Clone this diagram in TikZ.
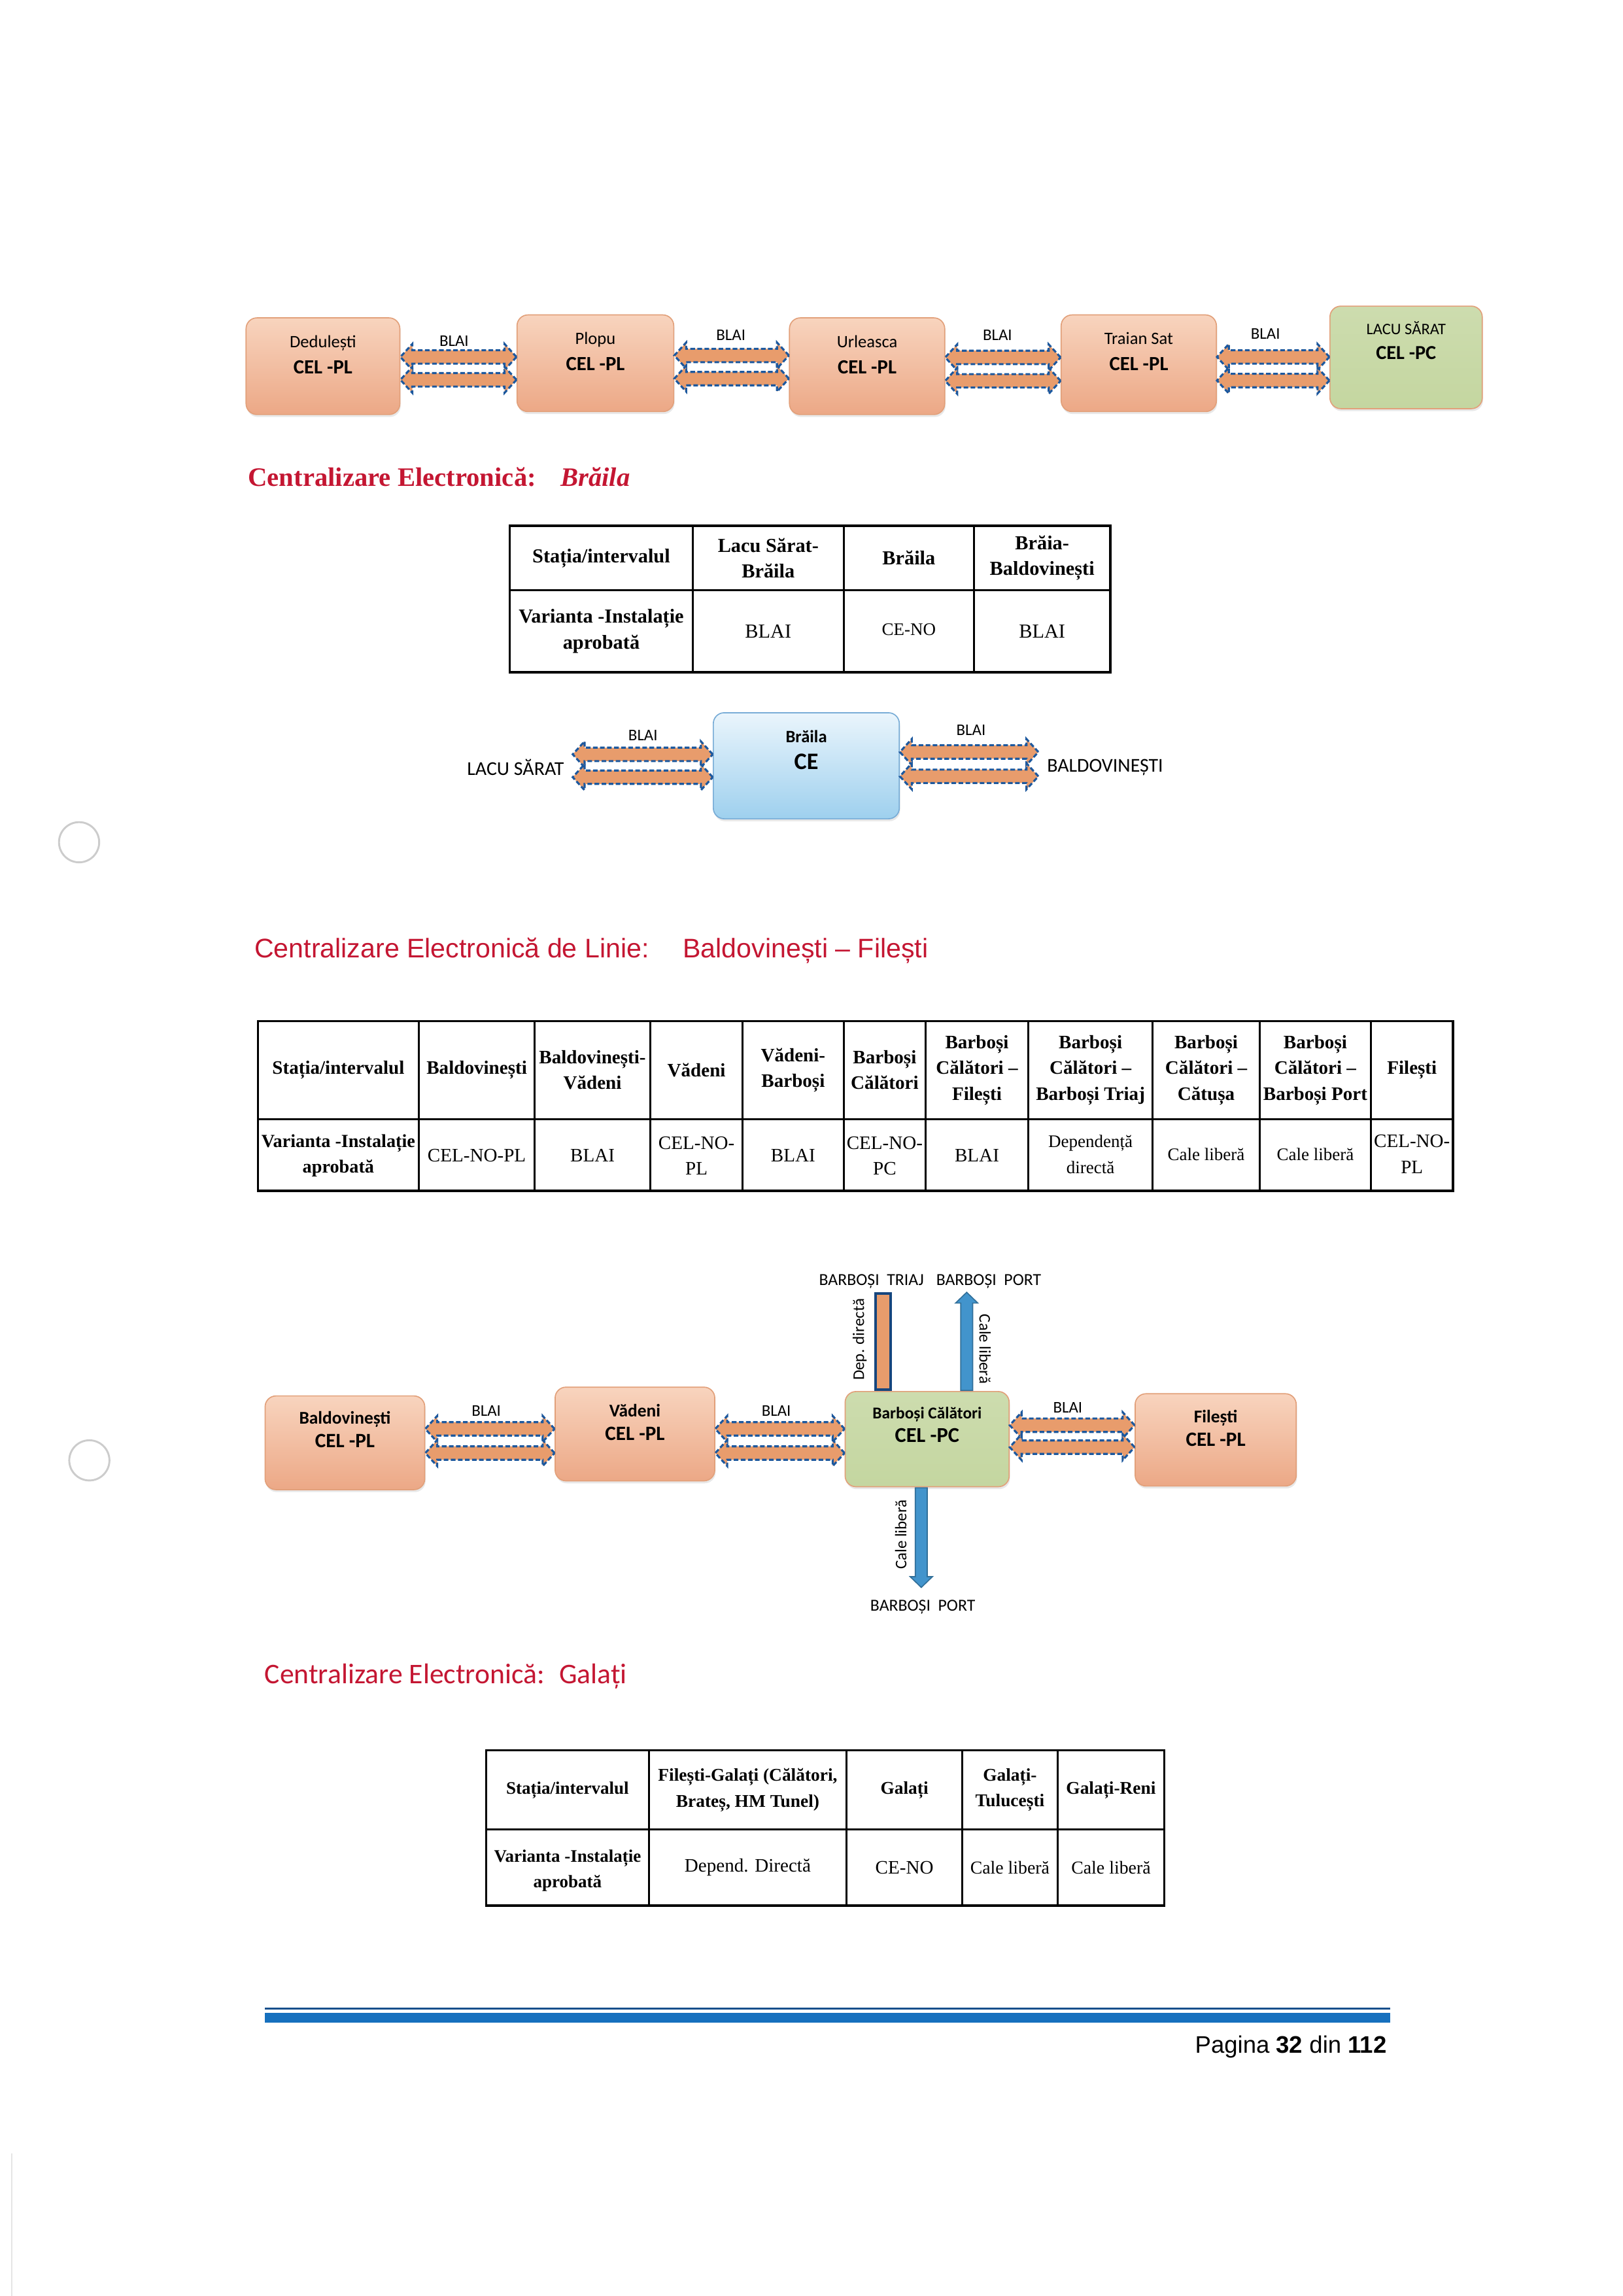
\documentclass[tikz,border=0pt]{standalone}
\usepackage{fontspec}
\setmainfont{Liberation Serif}
\newfontfamily\calib{Carlito}
\newfontfamily\arialf{Liberation Sans}
\usetikzlibrary{calc,shapes.arrows,shadows}

\definecolor{peachtop}{RGB}{248,212,190}
\definecolor{peachbot}{RGB}{236,168,134}
\definecolor{peachline}{RGB}{226,160,122}
\definecolor{greenbox}{RGB}{196,214,160}
\definecolor{bluetop}{RGB}{234,245,252}
\definecolor{bluebot}{RGB}{158,208,238}
\definecolor{blueline}{RGB}{120,172,214}
\definecolor{arroworange}{RGB}{232,156,108}
\definecolor{dashblue}{RGB}{28,88,158}
\definecolor{caleblue}{RGB}{66,148,204}
\definecolor{headred}{RGB}{196,22,50}
\definecolor{footblue}{RGB}{22,112,190}
\definecolor{footdark}{RGB}{24,80,140}

\newcommand{\unitpx}{0.018953cm}
\newcommand{\celcode}[2][7.4]{{\fontsize{#1}{9}\selectfont\bfseries #2}}

\tikzset{
  station/.style 2 args={draw=peachline, rounded corners=4pt, top color=peachtop, bottom color=peachbot,
    minimum width=#1*\unitpx, minimum height=#2*\unitpx, inner sep=0pt,
    drop shadow={shadow xshift=0.3pt, shadow yshift=-0.9pt, opacity=0.18}},
  greenst/.style 2 args={station={#1}{#2}, top color=greenbox!85!white, bottom color=greenbox},
  cestation/.style 2 args={station={#1}{#2}, draw=blueline, top color=bluetop, bottom color=bluebot},
  boxtxt/.style={align=center, inner sep=0pt, font=\calib\fontsize{6.4}{9.7}\selectfont},
  boxtxtb/.style={align=center, inner sep=0pt, font=\calib\bfseries\fontsize{6.6}{8.8}\selectfont},
  blai/.style={double arrow, draw=dashblue, line width=0.75pt, dash pattern=on 1.7pt off 0.9pt,
    fill=arroworange, inner xsep=0pt, inner ysep=2.1pt, minimum width=8.8pt,
    double arrow head extend=2.3pt, double arrow tip angle=95},
  blailbl/.style={font=\calib\fontsize{6}{7}\selectfont, inner sep=0pt},
  cale/.style={single arrow, draw=caleblue!75!black, line width=0.4pt, fill=caleblue,
    inner xsep=0pt, inner ysep=2pt, minimum width=7.8pt, single arrow head extend=1.9pt,
    single arrow tip angle=92},
  dep/.style={draw=dashblue!80!black, line width=1pt, fill=arroworange, inner sep=0pt,
    minimum width=10.4*\unitpx, minimum height=65.5*\unitpx},
  rotlbl/.style={font=\calib\fontsize{6}{7}\selectfont, inner sep=0pt},
  siglbl/.style={font=\calib\fontsize{6.2}{7}\selectfont, inner sep=0pt},
  endlbl/.style={font=\calib\fontsize{7.2}{8}\selectfont, inner xsep=3pt, inner ysep=0pt},
  tab/.style={line width=0.8pt},
  th/.style={align=center, inner sep=0pt, font=\bfseries\fontsize{#1}{9.5}\selectfont},
  th/.default=7,
  td/.style={align=center, inner sep=0pt, font=\fontsize{#1}{9.5}\selectfont},
  td/.default=7,
  head/.style={anchor=base west, inner sep=0pt, text=headred},
  hole/.style={draw=black!20, line width=0.7pt}
}

\begin{document}
\begin{tikzpicture}[x=\unitpx, y=-\unitpx]
\fill[white] (0,0) rectangle (1108,1567.5);
\useasboundingbox (0,0) rectangle (1108,1567.5);

% statiile de sus
\node[station={105}{66}] (d) at (220.5,250) {};
\node[boxtxt] (dt) at ($(d)+(0,-8)$) {Dedulești\\\celcode{CEL -PL}};
\node[station={107}{66}] (p) at (406.5,248) {};
\node[boxtxt] (pt) at ($(p)+(0,-8)$) {Plopu\\\celcode{CEL -PL}};
\node[station={106}{66}] (u) at (592,250) {};
\node[boxtxt] (ut) at ($(u)+(0,-8)$) {Urleasca\\\celcode{CEL -PL}};
\node[station={106}{66}] (t) at (777.5,248) {};
\node[boxtxt] (tt) at ($(t)+(0,-8)$) {Traian Sat\\\celcode{CEL -PL}};
\node[greenst={104}{70}] (ls1) at (960,244) {};
\node[boxtxt, font=\calib\fontsize{5.9}{9.1}\selectfont] (ls1t) at ($(ls1)+(0,-11.5)$) {LACU SĂRAT\\\celcode[7.3]{CEL -PC}};

% Braila
\node[endlbl] (ls) at (352,524) {LACU SĂRAT};
\node[cestation={127}{72.4}] (br) at (550.5,522.8) {};
\node[boxtxt] (brt) at ($(br)+(0,-10.8)$) {\textbf{Brăila}\\\celcode[8.7]{CE}};
\node[endlbl] (bv) at (754.5,524) {BALDOVINEȘTI};

% Baldovinesti - Filesti
\node[station={109}{64}] (bl) at (235.5,985) {};
\node[boxtxtb] (blt) at ($(bl)+(0,-9)$) {Baldovinești\\\celcode[7.5]{CEL -PL}};
\node[station={109}{64}] (vd) at (433.5,979) {};
\node[boxtxtb] (vdt) at ($(vd)+(0,-8)$) {Vădeni\\\celcode[7.5]{CEL -PL}};
\node[greenst={112}{65}] (bc) at (633,982.5) {};
\node[boxtxtb, font=\calib\bfseries\fontsize{6.1}{8.6}\selectfont] (bct) at ($(bc)+(0,-9.7)$) {Barboși Călători\\\celcode[7.8]{CEL -PC}};
\node[station={110}{63}] (fi) at (830,983) {};
\node[boxtxtb] (fit) at ($(fi)+(0,-8)$) {Filești\\\celcode[7.5]{CEL -PL}};

% legaturi BLAI
\foreach \a/\b/\ya/\yb in {d/p/243.7/259.3, p/u/242.7/258.5, u/t/244/260, t/ls1/243.7/259.8,
    ls/br/515/530.6, br/bv/513.4/530, bl/vd/975.5/992, vd/bc/975.5/992, bc/fi/973/988}{
  \path let \p1=(\a.east), \p2=(\b.west), \p3=(0,\ya), \p4=(0,\yb) in
    node[blai, minimum height={\x2-\x1}] (\a\b1) at ({(\x1+\x2)/2},\y3) {}
    node[blai, minimum height={\x2-\x1}] (\a\b2) at ({(\x1+\x2)/2},\y4) {};
}
\foreach \x/\y [count=\i] in {310/233, 499/229, 681/229, 864/228, 439/502, 663/498.6, 332/963, 530/963, 729/961}
  \node[blailbl] (blai\i) at (\x,\y) {BLAI};

% Barbosi Calatori: iesiri verticale
\node[dep, anchor=south] (dd) at ($(bc.north)+(-30,0)$) {};
\node[cale, rotate=90, anchor=tail, minimum height=67*\unitpx] (up) at ($(bc.north)+(27,0)$) {};
\node[cale, rotate=-90, anchor=tail, minimum height=68*\unitpx] (dn) at ($(bc.south)+(-4,0)$) {};
\node[rotlbl, rotate=90] (ddl) at (587,914.5) {Dep. directă};
\node[rotlbl, rotate=-90] (upl) at (672.6,921) {Cale liberă};
\node[rotlbl, rotate=90] (dnl) at (615,1047.7) {Cale liberă};
\node[siglbl] (btr) at (595,874.7) {BARBOȘI~~TRIAJ};
\node[siglbl] (bpo) at (675,874.7) {BARBOȘI~~PORT};
\node[siglbl] (bpo2) at (630,1097) {BARBOȘI~~PORT};

% titluri
\node[head, font=\bfseries\fontsize{9.8}{12}\selectfont] (h1) at (169,332) {Centralizare Electronică:\hspace{9pt}\textit{Brăila}};
\node[head, font=\arialf\fontsize{9.9}{12}\selectfont] (h2) at (173.4,654) {Centralizare Electronică de Linie:\hspace{12.5pt}Baldovinești – Filești};
\node[head, font=\calib\fontsize{10.5}{12}\selectfont] (h3) at (180.4,1149.5) {Centralizare Electronică:\hspace{5.4pt}Galați};

% tabel Braila
\draw[tab] (348,359) rectangle (758,459) (348,403) -- (758,403);
\foreach \x in {473,576,665} \draw[tab] (\x,359) -- (\x,459);
\node[th=7.3] (b11) at (410.5,381) {Stația/intervalul};
\node[th=7.3] (b12) at (524.5,381) {Lacu Sărat-\\Brăila};
\node[th=7.3] (b13) at (620.5,381) {Brăila};
\node[th=7.3] (b14) at (711.5,381) {Brăia-\\Baldovinești};
\node[th=7.3] (b21) at (410.5,431) {Varianta -Instalație\\aprobată};
\node[td=7.3] (b22) at (524.5,431) {BLAI};
\node[td=6.5] (b23) at (620.5,430) {CE-NO};
\node[td=7.3] (b24) at (711.5,431) {BLAI};

% tabel Baldovinesti - Filesti
\draw[tab] (176,697) rectangle (992,813) (176,764) -- (992,764);
\foreach \x in {286,365,444,507,576,632,702,787,860,936} \draw[tab] (\x,697) -- (\x,813);
\node[th] (l11) at (231,730.5) {Stația/intervalul};
\node[th] (l12) at (325.5,730.5) {Baldovinești};
\node[th] (l13) at (404.5,730.5) {Baldovinești-\\Vădeni};
\node[th] (l14) at (475.5,730.5) {Vădeni};
\node[th] (l15) at (541.5,730.5) {Vădeni-\\Barboși};
\node[th] (l16) at (604,730.5) {Barboși\\Călători};
\node[th] (l17) at (667,730.5) {Barboși\\Călători –\\Filești};
\node[th] (l18) at (744.5,730.5) {Barboși\\Călători –\\Barboși Triaj};
\node[th] (l19) at (823.5,730.5) {Barboși\\Călători –\\Cătușa};
\node[th] (l1a) at (898,730.5) {Barboși\\Călători –\\Barboși Port};
\node[th] (l1b) at (964,730.5) {Filești};
\node[th=6.8] (l21) at (231,789) {Varianta -Instalație\\aprobată};
\node[td] (l22) at (325.5,789) {CEL-NO-PL};
\node[td] (l23) at (404.5,789) {BLAI};
\node[td] (l24) at (475.5,789) {CEL-NO-\\PL};
\node[td] (l25) at (541.5,789) {BLAI};
\node[td] (l26) at (604,789) {CEL-NO-\\PC};
\node[td] (l27) at (667,789) {BLAI};
\node[td=6.5] (l28) at (744.5,788) {Dependență\\directă};
\node[td=6.5] (l29) at (823.5,788) {Cale liberă};
\node[td=6.5] (l2a) at (898,788) {Cale liberă};
\node[td] (l2b) at (964,788) {CEL-NO-\\PL};

% tabel Galati
\draw[tab] (332,1195) rectangle (795,1301) (332,1249) -- (795,1249);
\foreach \x in {443,578,657,722} \draw[tab] (\x,1195) -- (\x,1301);
\node[th=6.5] (g11) at (387.5,1222) {Stația/intervalul};
\node[th=6.6] (g12) at (510.5,1222) {Filești-Galați (Călători,\\Brateș, HM Tunel)};
\node[th=6.6] (g13) at (617.5,1222) {Galați};
\node[th=6.6] (g14) at (689.5,1222) {Galați-\\Tulucești};
\node[th=6.6] (g15) at (758.5,1222) {Galați-Reni};
\node[th=6.5] (g21) at (387.5,1277) {Varianta -Instalație\\aprobată};
\node[td] (g22) at (510.5,1275) {Depend. Directă};
\node[td] (g23) at (617.5,1275) {CE-NO};
\node[td=6.7] (g24) at (689.5,1275) {Cale liberă};
\node[td=6.7] (g25) at (758.5,1275) {Cale liberă};

% subsol
\draw[footdark, line width=0.7pt] (181,1371.4) -- (949,1371.4);
\draw[footblue, line width=3.6pt] (181,1377.4) -- (949,1377.4);
\node[anchor=base east, inner sep=0pt, font=\arialf\fontsize{8.8}{10}\selectfont] (pg) at (947,1401.8) {Pagina \textbf{32} din \textbf{112}};

% urme de scanare
\draw[hole] (54,575) circle[radius=2.6mm];
\draw[hole] (61,997) circle[radius=2.6mm];
\draw[black!10, line width=0.5pt] (8,1470) -- (8,1567.5);
\end{tikzpicture}
\end{document}
